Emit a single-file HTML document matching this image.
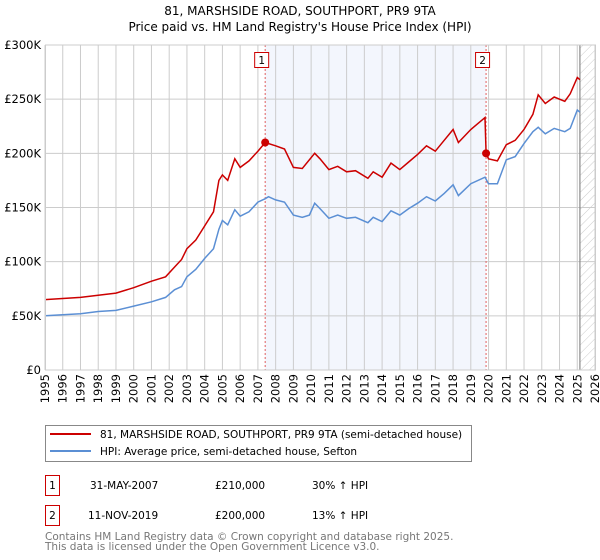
<!DOCTYPE html>
<html><head><meta charset="utf-8"><style>
body{margin:0;background:#fff;font-family:"DejaVu Sans","Liberation Sans",sans-serif;}
#wrap{position:relative;width:600px;height:560px;overflow:hidden;}
</style></head><body>
<div id="wrap">
<svg id="chart" width="600" height="560" xmlns="http://www.w3.org/2000/svg" font-family="DejaVu Sans, Liberation Sans, sans-serif">
<defs><pattern id="hatch" width="6" height="6" patternUnits="userSpaceOnUse" patternTransform="rotate(45)"><line x1="0" y1="0" x2="0" y2="6" stroke="#ccc" stroke-width="1"/></pattern></defs>
<text x="300" y="15" text-anchor="middle" font-size="12" fill="#000">81, MARSHSIDE ROAD, SOUTHPORT, PR9 9TA</text>
<text x="300" y="31" text-anchor="middle" font-size="12" fill="#000">Price paid vs. HM Land Registry's House Price Index (HPI)</text>
<g id="plot"></g>
<g>
<rect x="45.5" y="425.5" width="426" height="36" fill="#fff" stroke="#888"/>
<line x1="50" y1="434" x2="91" y2="434" stroke="#cc0000" stroke-width="2"/>
<text x="100" y="438" font-size="10.5">81, MARSHSIDE ROAD, SOUTHPORT, PR9 9TA (semi-detached house)</text>
<line x1="50" y1="451" x2="91" y2="451" stroke="#5b8fd4" stroke-width="2"/>
<text x="100" y="455" font-size="10.5">HPI: Average price, semi-detached house, Sefton</text>
</g>
<g font-size="10.5">
<rect x="45.5" y="475.5" width="14" height="20" fill="#fff" stroke="#cc0000"/>
<text x="52.5" y="489" text-anchor="middle">1</text>
<text x="90" y="489">31-MAY-2007</text>
<text x="215" y="489">£210,000</text>
<text x="312" y="489">30% ↑ HPI</text>
<rect x="45.5" y="505.5" width="14" height="20" fill="#fff" stroke="#cc0000"/>
<text x="52.5" y="519" text-anchor="middle">2</text>
<text x="88" y="519">11-NOV-2019</text>
<text x="215" y="519">£200,000</text>
<text x="312" y="519">13% ↑ HPI</text>
</g>
<text x="45" y="540" font-size="10.5" fill="#777">Contains HM Land Registry data © Crown copyright and database right 2025.</text>
<text x="45" y="550" font-size="10.5" fill="#777">This data is licensed under the Open Government Licence v3.0.</text>
</svg>
</div>
<script>
const hpiYears=[1995,1996,1997,1998,1999,2000,2001,2001.8,2002.3,2002.7,2003,2003.5,2004,2004.5,2004.8,2005,2005.3,2005.7,2006,2006.5,2007,2007.4,2007.6,2008,2008.5,2009,2009.5,2009.9,2010.2,2010.5,2011,2011.5,2012,2012.5,2013.2,2013.5,2014,2014.5,2015,2015.5,2016,2016.5,2017,2017.5,2018,2018.3,2019,2019.8,2020,2020.5,2021,2021.5,2022,2022.5,2022.8,2023.2,2023.7,2024.3,2024.6,2025,2025.15];
const hpiValues=[50,51,52,54,55,59,63,67,74,77,86,93,103,112,130,138,134,148,142,146,155,158,160,157,155,143,141,143,154,149,140,143,140,141,136,141,137,147,143,149,154,160,156,163,171,161,172,178,172,172,194,197,209,220,224,218,223,220,223,240,238];
const priceYears=[1995,1996,1997,1998,1999,2000,2001,2001.8,2002.3,2002.7,2003,2003.5,2004,2004.5,2004.8,2005,2005.3,2005.7,2006,2006.5,2007,2007.41,2008,2008.5,2009,2009.5,2010.2,2010.5,2011,2011.5,2012,2012.5,2013.2,2013.5,2014,2014.5,2015,2015.5,2016,2016.5,2017,2017.5,2018,2018.3,2019,2019.8,2019.86,2020,2020.5,2021,2021.5,2022,2022.5,2022.8,2023.2,2023.7,2024.3,2024.6,2025,2025.15];
const priceValues=[65,66,67,69,71,76,82,86,95,102,112,120,133,146,175,180,175,195,187,193,202,210,207,204,187,186,200,195,185,188,183,184,177,183,178,191,185,192,199,207,202,212,222,210,222,233,200,195,193,208,212,222,236,254,246,252,248,255,270,268];
const saleYears=[2007.41,2019.86];
const saleValues=[210,200];
const yTicks=[0,50,100,150,200,250,300];
const yTickLabels=["£0","£50K","£100K","£150K","£200K","£250K","£300K"];
const xTicks=[1995,1996,1997,1998,1999,2000,2001,2002,2003,2004,2005,2006,2007,2008,2009,2010,2011,2012,2013,2014,2015,2016,2017,2018,2019,2020,2021,2022,2023,2024,2025,2026];

const X0=45,X1=595,Y0=370,Y1=45;
const xs=y=>X0+(y-1995)/(2026-1995)*(X1-X0);
const ys=v=>Y0-v/300*(Y0-Y1);
const NS="http://www.w3.org/2000/svg";
const g=document.getElementById('plot');
function mk(t,a){const e=document.createElementNS(NS,t);for(const k in a)e.setAttribute(k,a[k]);g.appendChild(e);return e;}

let e=mk('rect',{x:xs(saleYears[0]),y:Y1,width:xs(saleYears[1])-xs(saleYears[0]),height:Y0-Y1,fill:'#eef2fc',opacity:0.7});


e=mk('rect',{x:xs(2025.15),y:Y1,width:X1-xs(2025.15),height:Y0-Y1,fill:'url(#hatch)'});


yTicks.forEach((v,i)=>{
 let l=mk('line',{x1:X0,x2:X1,y1:ys(v),y2:ys(v),stroke:'#ccc','stroke-width':1});
 
 
 let t=mk('text',{x:41,y:ys(v)+4,'text-anchor':'end','font-size':11.5});
 t.textContent=yTickLabels[i];
 
 
});
xTicks.forEach(yr=>{
 let l=mk('line',{x1:xs(yr),x2:xs(yr),y1:Y1,y2:Y0,stroke:'#ccc','stroke-width':1});
 
 
 let t=mk('text',{x:0,y:0,'text-anchor':'end','font-size':11.5,transform:`translate(${xs(yr)+4},${Y0+4}) rotate(-90)`});
 t.textContent=String(yr);
 
 
});
e=mk('line',{x1:xs(2025.15),x2:xs(2025.15),y1:Y1,y2:Y0,stroke:'#888','stroke-width':1.2});


saleYears.forEach((yr,i)=>{
 let l=mk('line',{x1:xs(yr),x2:xs(yr),y1:Y1,y2:Y0,stroke:'#e06060','stroke-width':1,'stroke-dasharray':'2,2'});
 
 
});
const pts=(a,b)=>a.map((y,i)=>xs(y).toFixed(1)+','+ys(b[i]).toFixed(1)).join(' ');
e=mk('polyline',{points:pts(hpiYears,hpiValues),fill:'none',stroke:'#5b8fd4','stroke-width':1.5});


e=mk('polyline',{points:pts(priceYears,priceValues),fill:'none',stroke:'#cc0000','stroke-width':1.5});


saleYears.forEach((yr,i)=>{
 let c=mk('circle',{cx:xs(yr),cy:ys(saleValues[i]),r:4,fill:'#cc0000'});
 
 
 let bx=xs(yr)-11;
 let r=mk('rect',{x:bx+0.5,y:52.5,width:14,height:15,fill:'#fff',stroke:'#cc0000'});
 
 
 let t=mk('text',{x:bx+7.5,y:64,'text-anchor':'middle','font-size':10.5});
 t.textContent=String(i+1);
 
 
});
e=mk('rect',{x:X0+0.5,y:Y1,width:X1-X0,height:Y0-Y1,fill:'none',stroke:'#ccc'});


</script>
</body></html>
